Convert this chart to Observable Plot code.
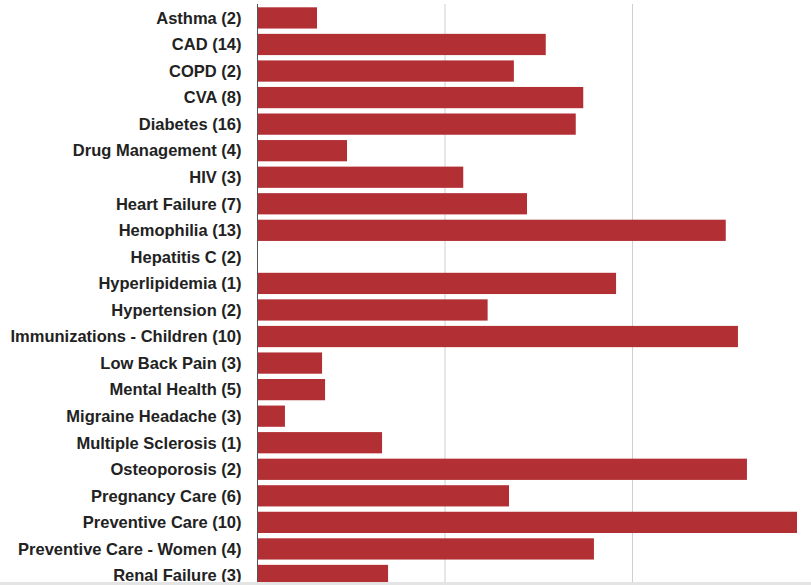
<!DOCTYPE html>
<html>
<head>
<meta charset="utf-8">
<script src="https://cdn.jsdelivr.net/npm/d3@7"></script>
<script src="https://cdn.jsdelivr.net/npm/@observablehq/plot@0.6"></script>
<style>
  html, body { margin: 0; padding: 0; background: #fff; overflow: hidden; }
  #chart svg { display: block; }
  #band { height: 3px; background: #e4e4e4; }
</style>
</head>
<body>
<div id="chart"></div>
<div id="band"></div>
<script>
const categories = [
  "Asthma (2)", "CAD (14)", "COPD (2)", "CVA (8)", "Diabetes (16)",
  "Drug Management (4)", "HIV (3)", "Heart Failure (7)", "Hemophilia (13)",
  "Hepatitis C (2)", "Hyperlipidemia (1)", "Hypertension (2)",
  "Immunizations - Children (10)", "Low Back Pain (3)", "Mental Health (5)",
  "Migraine Headache (3)", "Multiple Sclerosis (1)", "Osteoporosis (2)",
  "Pregnancy Care (6)", "Preventive Care (10)", "Preventive Care - Women (4)",
  "Renal Failure (3)"
];
const values = [
  0.32, 1.54, 1.37, 1.74, 1.70,
  0.48, 1.10, 1.44, 2.50,
  0, 1.915, 1.23,
  2.565, 0.347, 0.363,
  0.149, 0.667, 2.613,
  1.344, 2.88, 1.797,
  0.699
];
const gridTicks = [1, 2];

const data = categories.map((c, i) => ({name: c, value: values[i]}));

const chart = Plot.plot({
  width: 811,
  height: 582,
  marginLeft: 257,
  marginRight: 0,
  marginTop: 4,
  marginBottom: 0,
  style: {fontFamily: "'Liberation Sans', Arial, sans-serif", color: "#222", background: "#fff"},
  x: {domain: [0, 554 / 187.5], axis: null},
  y: {domain: categories, range: [4.65, 588.75], paddingInner: 0.2, paddingOuter: 0.1, round: false, axis: null},
  marks: [
    Plot.ruleX(gridTicks, {stroke: "#cfcfcf", strokeWidth: 1}),
    Plot.barX(data, {x: "value", y: "name", fill: "#b22f34"}),
    Plot.ruleX([0], {stroke: "#555", strokeWidth: 1}),
    Plot.axisY({tickSize: 0, tickPadding: 16, label: null, fontSize: 16.5, fontWeight: "bold", fill: "#222"})
  ]
});
document.getElementById("chart").appendChild(chart);
</script>
</body>
</html>
